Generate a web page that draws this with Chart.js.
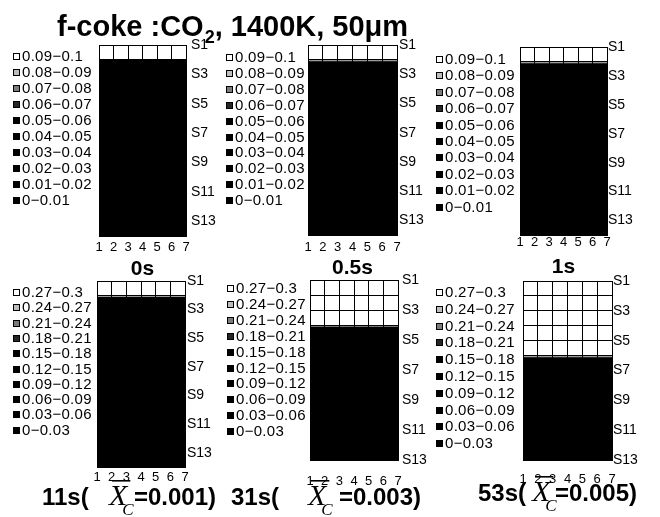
<!DOCTYPE html>
<html><head><meta charset="utf-8">
<script src="https://cdn.jsdelivr.net/npm/chart.js@4.4.1/dist/chart.umd.min.js"></script>
<style>
html,body{margin:0;padding:0;background:#fff;}
#wrap{position:relative;width:660px;height:517px;overflow:hidden;background:#fff;}
#wrap canvas{position:absolute;left:0;top:0;}
</style></head><body><div id="wrap"></div>
<script>
// ---------- data ----------
const columnTicks = ['1','2','3','4','5','6','7'];
const rowTicks = ['S1','S2','S3','S4','S5','S6','S7','S8','S9','S10','S11','S12','S13'];

const legendLow  = ['0.09\u22120.1','0.08\u22120.09','0.07\u22120.08','0.06\u22120.07','0.05\u22120.06','0.04\u22120.05','0.03\u22120.04','0.02\u22120.03','0.01\u22120.02','0\u22120.01'];
const bandsLow   = [0.09,0.08,0.07,0.06,0.05,0.04,0.03,0.02,0.01,0];
const legendHigh = ['0.27\u22120.3','0.24\u22120.27','0.21\u22120.24','0.18\u22120.21','0.15\u22120.18','0.12\u22120.15','0.09\u22120.12','0.06\u22120.09','0.03\u22120.06','0\u22120.03'];
const bandsHigh  = [0.27,0.24,0.21,0.18,0.15,0.12,0.09,0.06,0.03,0];

// row values (top row S1 first); every column of a row reads the same
const rows0s  = [0.095,0.005,0.005,0.005,0.005,0.005,0.005,0.005,0.005,0.005,0.005,0.005,0.005];
const rows05s = [0.095,0.005,0.005,0.005,0.005,0.005,0.005,0.005,0.005,0.005,0.005,0.005,0.005];
const rows1s  = [0.095,0.005,0.005,0.005,0.005,0.005,0.005,0.005,0.005,0.005,0.005,0.005,0.005];
const rows11s = [0.285,0.015,0.015,0.015,0.015,0.015,0.015,0.015,0.015,0.015,0.015,0.015,0.015];
const rows31s = [0.285,0.285,0.285,0.015,0.015,0.015,0.015,0.015,0.015,0.015,0.015,0.015];
const rows53s = [0.285,0.285,0.285,0.285,0.285,0.015,0.015,0.015,0.015,0.015,0.015,0.015];

const panelTitles = ['0s','0.5s','1s'];
const captionTimes = ['11s(','31s(','53s('];
const captionXc = ['=0.001)','=0.003)','=0.005)'];
const mainTitle = ['f-coke :CO','2',', 1400K, 50\u03bcm'];

// ---------- styles / layout ----------
const bandColors = ['#ffffff','#bdbdbd','#7c7c7c','#262626','#000000','#000000','#000000','#000000','#000000','#000000'];
const SANS = "'Liberation Sans', Arial, sans-serif";
const SERIF = "'Liberation Serif', 'Times New Roman', serif";
Chart.defaults.font.family = SANS;
Chart.defaults.color = '#000';

const layouts = [
  {L:99, R:186,T:45, B:236,legX:13, legY:56, legStep:16.0,xPad:4, yPad:5,titleC:269},
  {L:308,R:397,T:45, B:235,legX:226,legY:57, legStep:15.9,xPad:5, yPad:2,titleC:268},
  {L:520,R:607,T:47, B:235,legX:436,legY:59, legStep:16.4,xPad:0, yPad:1,titleC:267},
  {L:97, R:185,T:281,B:467,legX:13, legY:292,legStep:15.3,xPad:3, yPad:2,capX:42, capXX:109,capEnd:216,capY:505},
  {L:310,R:398,T:280,B:460,legX:227,legY:288,legStep:15.9,xPad:14,yPad:4,capX:231,capXX:308,capEnd:421,capY:505},
  {L:523,R:612,T:281,B:460,legX:436,legY:292,legStep:16.8,xPad:12,yPad:1,capX:478,capXX:532,capEnd:637,capY:501}
];

function bandIndex(v, bands){
  for (let k = 0; k < bands.length; k++) if (v >= bands[k]) return k;
  return bands.length - 1;
}

function drawCaption(ctx, lay, t, xc){
  const y = lay.capY;
  ctx.save();
  ctx.fillStyle = '#000';
  ctx.textBaseline = 'alphabetic';
  ctx.font = 'bold 24px ' + SANS;
  ctx.textAlign = 'left';
  ctx.fillText(t, lay.capX, y);
  ctx.textAlign = 'right';
  ctx.fillText(xc, lay.capEnd, y);
  ctx.textAlign = 'left';
  const cx = lay.capXX;
  ctx.font = 'italic 30px ' + SERIF;
  ctx.fillText('X', cx, y);
  const xw = ctx.measureText('X').width;
  ctx.fillRect(cx + 3, y - 25, xw, 1.6);
  ctx.font = 'italic 17px ' + SERIF;
  ctx.fillText('C', cx + xw - 5, y + 10);
  ctx.restore();
}

function drawMainTitle(ctx){
  ctx.save();
  ctx.fillStyle = '#000';
  ctx.textBaseline = 'alphabetic';
  let x = 57;
  ctx.font = 'bold 29px ' + SANS;
  ctx.fillText(mainTitle[0], x, 36);
  x += ctx.measureText(mainTitle[0]).width + 1;
  ctx.font = 'bold 18px ' + SANS;
  ctx.fillText(mainTitle[1], x, 43);
  x += ctx.measureText(mainTitle[1]).width;
  ctx.font = 'bold 29px ' + SANS;
  ctx.fillText(mainTitle[2], x, 36);
  ctx.restore();
}

const wrap = document.getElementById('wrap');

function makePanel(i, rows, legendLabels, bands, strip){
  const lay = layouts[i];
  const canvas = document.createElement('canvas');
  canvas.width = 660; canvas.height = 517;
  canvas.style.width = '660px'; canvas.style.height = '517px';
  wrap.appendChild(canvas);

  const nRows = rows.length;
  const nCols = columnTicks.length - 1;
  const YW = 40;
  const XH = lay.titleC ? (lay.titleC - lay.B + 10.5) : 30;

  const datasets = rows.map((v, r) => {
    const isEdge = strip && r > 0 && bandIndex(rows[r-1], bands) === 0 && bandIndex(v, bands) !== 0;
    return {
      data: Array.from({length: nCols}, (_, c) => ({x: c + 0.5, y: 1, v: v})),
      backgroundColor: ctx => bandColors[bandIndex(ctx.raw.v, bands)],
      borderColor: '#9a9a9a',
      borderWidth: isEdge ? {top: 2, right: 0, bottom: 0, left: 0} : 0,
      borderSkipped: false,
      barPercentage: 1,
      categoryPercentage: 1
    };
  });

  const panelPlugin = {
    id: 'panelDecor' + i,
    afterDraw(chart){
      const ctx = chart.ctx;
      ctx.save();
      ctx.font = '15px ' + SANS;
      try { ctx.letterSpacing = '0.3px'; } catch(e) {}
      ctx.textBaseline = 'middle';
      legendLabels.forEach((lab, k) => {
        const y = Math.round(lay.legY + k * lay.legStep);
        ctx.fillStyle = bandColors[k];
        ctx.fillRect(lay.legX, y - 3, 7, 7);
        ctx.strokeStyle = '#000'; ctx.lineWidth = 1;
        ctx.strokeRect(lay.legX + 0.5, y - 2.5, 6, 6);
        ctx.fillStyle = '#000';
        ctx.fillText(lab, lay.legX + 9, y + 1);
      });
      ctx.restore();
      if (i === 0) drawMainTitle(ctx);
      if (i >= 3) drawCaption(ctx, lay, captionTimes[i-3], captionXc[i-3]);
    }
  };

  const gridOpts = {color: '#000', lineWidth: 1, drawTicks: false, offset: false, z: 1};
  const borderOpts = {display: true, color: '#000', width: 1, z: 1};
  return new Chart(canvas, {
    type: 'bar',
    data: {datasets},
    options: {
      responsive: false,
      animation: false,
      devicePixelRatio: 1,
      events: [],
      layout: {padding: {left: lay.L, top: lay.T, right: 660 - lay.R - YW, bottom: 517 - lay.B - XH}},
      plugins: {legend: {display: false}, tooltip: {enabled: false}},
      scales: {
        x: {
          type: 'linear', min: 0, max: nCols, offset: false, stacked: true, position: 'bottom',
          grid: gridOpts,
          border: borderOpts,
          ticks: {stepSize: 1, autoSkip: false, maxRotation: 0, padding: lay.xPad, color: '#000',
                  font: {size: 13}, callback: v => columnTicks[v]},
          title: lay.titleC ? {display: true, text: panelTitles[i], color: '#000', padding: 0,
                  font: {size: 21, weight: 'bold', lineHeight: 1}} : {display: false},
          afterFit: s => { s.height = XH; }
        },
        y: {
          type: 'linear', min: 0, max: nRows, reverse: true, stacked: true, position: 'right',
          grid: gridOpts,
          border: borderOpts,
          ticks: {stepSize: 1, autoSkip: false, padding: lay.yPad, color: '#000', font: {size: 14},
                  callback: v => (Number.isInteger(v) && v % 2 === 0 && rowTicks[v]) ? rowTicks[v] : ''},
          afterFit: s => { s.width = YW; }
        }
      }
    },
    plugins: [panelPlugin]
  });
}

makePanel(0, rows0s,  legendLow,  bandsLow,  false);
makePanel(1, rows05s, legendLow,  bandsLow,  true);
makePanel(2, rows1s,  legendLow,  bandsLow,  true);
makePanel(3, rows11s, legendHigh, bandsHigh, true);
makePanel(4, rows31s, legendHigh, bandsHigh, true);
makePanel(5, rows53s, legendHigh, bandsHigh, true);
</script>
</body></html>
